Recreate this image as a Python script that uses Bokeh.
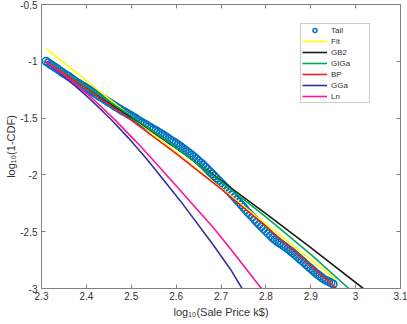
from bokeh.plotting import figure
from bokeh.models import LinearAxis, Range1d, Legend, LegendItem, FixedTicker
from bokeh.embed import file_html
from bokeh.resources import INLINE

# ---- data ----
x_ticks = [2.3, 2.4, 2.5, 2.6, 2.7, 2.8, 2.9, 3.0, 3.1]
x_tick_labels = ["2.3", "2.4", "2.5", "2.6", "2.7", "2.8", "2.9", "3", "3.1"]
y_ticks = [-3.0, -2.5, -2.0, -1.5, -1.0, -0.5]
y_tick_labels = ["-3", "-2.5", "-2", "-1.5", "-1", "-0.5"]

tail_x = [2.310, 2.315, 2.320, 2.325, 2.330, 2.335, 2.340, 2.345, 2.350, 2.355,
          2.360, 2.365, 2.370, 2.375, 2.380, 2.385, 2.390, 2.395, 2.400, 2.405,
          2.410, 2.415, 2.420, 2.425, 2.430, 2.435, 2.440, 2.445, 2.450, 2.455,
          2.460, 2.465, 2.470, 2.475, 2.480, 2.485, 2.490, 2.495, 2.500, 2.505,
          2.510, 2.515, 2.520, 2.525, 2.530, 2.535, 2.540, 2.545, 2.550, 2.555,
          2.560, 2.565, 2.570, 2.575, 2.580, 2.585, 2.590, 2.595, 2.600, 2.605,
          2.610, 2.615, 2.620, 2.625, 2.630, 2.635, 2.640, 2.645, 2.650, 2.655,
          2.660, 2.665, 2.670, 2.675, 2.680, 2.685, 2.690, 2.695, 2.700, 2.705,
          2.710, 2.715, 2.720, 2.725, 2.730, 2.735, 2.740, 2.745, 2.750, 2.755,
          2.760, 2.765, 2.770, 2.775, 2.780, 2.785, 2.790, 2.795, 2.800, 2.805,
          2.810, 2.815, 2.820, 2.825, 2.830, 2.835, 2.840, 2.845, 2.850, 2.855,
          2.860, 2.865, 2.870, 2.875, 2.880, 2.885, 2.890, 2.895, 2.900, 2.905,
          2.910, 2.915, 2.920, 2.925, 2.930, 2.935, 2.940, 2.945, 2.950]
tail_y = [-1.000, -1.013, -1.028, -1.040, -1.052, -1.066, -1.080, -1.094, -1.108, -1.120,
          -1.132, -1.146, -1.160, -1.175, -1.188, -1.200, -1.212, -1.224, -1.236, -1.248,
          -1.260, -1.272, -1.285, -1.298, -1.310, -1.322, -1.335, -1.348, -1.360, -1.372,
          -1.385, -1.398, -1.410, -1.422, -1.435, -1.445, -1.456, -1.468, -1.480, -1.490,
          -1.502, -1.516, -1.530, -1.540, -1.551, -1.563, -1.576, -1.588, -1.600, -1.610,
          -1.621, -1.633, -1.646, -1.658, -1.671, -1.686, -1.700, -1.710, -1.722, -1.736,
          -1.750, -1.765, -1.780, -1.795, -1.810, -1.825, -1.841, -1.858, -1.876, -1.893,
          -1.911, -1.930, -1.950, -1.970, -1.990, -2.010, -2.030, -2.050, -2.070, -2.090,
          -2.110, -2.130, -2.151, -2.173, -2.196, -2.218, -2.240, -2.263, -2.285, -2.308,
          -2.330, -2.350, -2.370, -2.393, -2.415, -2.435, -2.455, -2.475, -2.495, -2.515,
          -2.535, -2.553, -2.570, -2.586, -2.600, -2.612, -2.625, -2.640, -2.655, -2.670,
          -2.686, -2.703, -2.720, -2.738, -2.755, -2.772, -2.790, -2.808, -2.825, -2.842,
          -2.860, -2.875, -2.890, -2.905, -2.920, -2.930, -2.940, -2.950, -2.960]

fit_x = [2.311, 2.955]
fit_y = [-0.89, -2.92]

gb2_x = [2.309, 2.40, 2.50, 2.60, 2.70, 2.80, 2.90, 3.017]
gb2_y = [-1.00, -1.235, -1.49, -1.765, -2.05, -2.34, -2.64, -3.00]

giga_x = [2.309, 2.40, 2.50, 2.60, 2.70, 2.80, 2.90, 2.985]
giga_y = [-1.00, -1.225, -1.48, -1.76, -2.06, -2.37, -2.70, -3.00]

bp_x = [2.309, 2.40, 2.50, 2.60, 2.70, 2.80, 2.90, 2.957]
bp_y = [-1.00, -1.239, -1.517, -1.813, -2.124, -2.452, -2.796, -3.00]

gga_x = [2.309, 2.36, 2.409, 2.454, 2.494, 2.535, 2.61, 2.684, 2.721, 2.747]
gga_y = [-1.00, -1.163, -1.335, -1.508, -1.676, -1.863, -2.231, -2.623, -2.830, -3.00]

ln_x = [2.309, 2.36, 2.409, 2.465, 2.509, 2.535, 2.61, 2.684, 2.721, 2.79]
ln_y = [-1.00, -1.15, -1.31, -1.52, -1.70, -1.81, -2.14, -2.47, -2.65, -3.00]

series_names = ["Tail", "Fit", "GB2", "GIGa", "BP", "GGa", "Ln"]

# ---- styling ----
FONT = "Liberation Sans"
AX = "#808080"
TXT = "#333333"

p = figure(width=407, height=324, x_range=Range1d(2.3, 3.1), y_range=Range1d(-3, -0.5),
           output_backend="svg", toolbar_location=None,
           min_border_left=41, min_border_right=7, min_border_top=4, min_border_bottom=36)
p.grid.visible = False
p.outline_line_color = AX
p.background_fill_color = "white"
p.border_fill_color = "white"

p.xaxis.ticker = FixedTicker(ticks=x_ticks)
p.xaxis.major_label_overrides = {t: l for t, l in zip(x_ticks, x_tick_labels)}
p.yaxis.ticker = FixedTicker(ticks=y_ticks)
p.yaxis.major_label_overrides = {t: l for t, l in zip(y_ticks, y_tick_labels)}
p.xaxis.axis_label = "log\u2081\u2080(Sale Price k$)"
p.yaxis.axis_label = "log\u2081\u2080(1-CDF)"
for ax in (p.xaxis, p.yaxis):
    ax.axis_line_color = AX
    ax.major_tick_line_color = AX
    ax.major_tick_in = 4
    ax.major_tick_out = 0
    ax.minor_tick_line_color = None
    ax.major_label_text_font = FONT
    ax.major_label_text_font_size = "10px"
    ax.major_label_text_color = TXT
    ax.axis_label_text_font = FONT
    ax.axis_label_text_font_size = "11px"
    ax.axis_label_text_font_style = "normal"
    ax.axis_label_text_color = TXT
p.xaxis.major_label_standoff = 3
p.yaxis.major_label_standoff = 4
p.xaxis.axis_label_standoff = 3
p.yaxis.axis_label_standoff = 0

for side, tk in (("right", y_ticks), ("above", x_ticks)):
    a = LinearAxis(ticker=FixedTicker(ticks=tk), major_label_text_font_size="1px",
                   major_label_text_color=None, major_label_standoff=0,
                   axis_line_color=AX, major_tick_line_color=AX,
                   major_tick_in=4, major_tick_out=0, minor_tick_line_color=None)
    p.add_layout(a, side)

r_tail = p.scatter(tail_x, tail_y, marker="circle", size=7.5, fill_color=None,
                   line_color="#0072BD", line_width=1.5)
r_fit = p.line(fit_x, fit_y, line_color="#FFFF00", line_width=1.6)
r_gb2 = p.line(gb2_x, gb2_y, line_color="#1a1a1a", line_width=1.6)
r_giga = p.line(giga_x, giga_y, line_color="#00AA55", line_width=1.6)
r_bp = p.line(bp_x, bp_y, line_color="#EE1C25", line_width=1.6)
r_gga = p.line(gga_x, gga_y, line_color="#333399", line_width=1.6)
r_ln = p.line(ln_x, ln_y, line_color="#FF1493", line_width=1.6)

renderers = [r_tail, r_fit, r_gb2, r_giga, r_bp, r_gga, r_ln]
legend = Legend(items=[LegendItem(label=n, renderers=[r]) for n, r in zip(series_names, renderers)],
                location=(259, 185), border_line_color="#999999", border_line_width=1,
                background_fill_color="white", background_fill_alpha=1,
                label_text_font=FONT, label_text_font_size="8px", label_text_color=TXT,
                glyph_width=25, glyph_height=10, label_height=10, spacing=1, padding=1,
                margin=0, label_standoff=4, label_width=37)
p.add_layout(legend)

open("out.html", "w").write(file_html(p, INLINE))
